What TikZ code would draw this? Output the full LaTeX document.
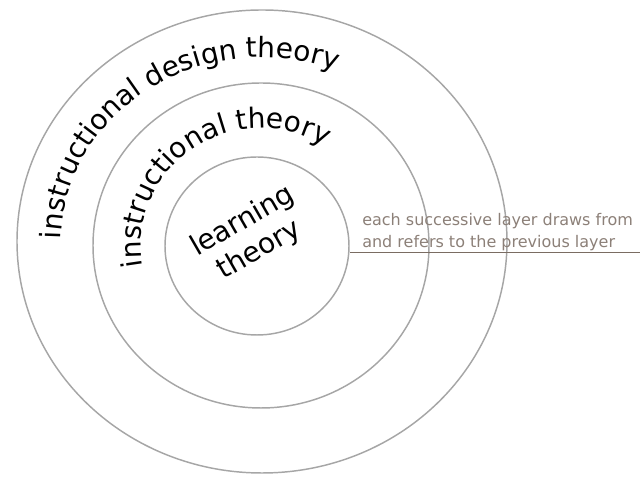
\documentclass[tikz,border=0pt]{standalone}
\usepackage{fontspec}
\setmainfont{DejaVu Sans}
\usetikzlibrary{decorations.text}
\definecolor{ringgray}{HTML}{A6A6A6}
\definecolor{notebrown}{HTML}{7A6C62}
\definecolor{notetext}{HTML}{8C8078}
\newfontfamily\ringfont{DejaVu Sans}
\newcommand{\ringsize}{\ringfont\fontsize{21}{25}\selectfont}

\begin{document}
\begin{tikzpicture}[x=0.75pt, y=0.75pt,
    ring/.style={draw=ringgray, line width=1.1pt},
    ringtext/.style={decorate, decoration={text along path, text align=center,
        text={|\ringsize|#1}}}]
    \useasboundingbox (0,0) rectangle (640,477);

    % Drei Ringe (aussen nach innen)
    \draw[ring] (262,235.5) ellipse [x radius=245, y radius=231.5];
    \draw[ring] (261,231.5) ellipse [x radius=168, y radius=162.5];
    \draw[ring] (257,231) ellipse [x radius=92, y radius=89];

    % Beschriftung entlang der Ringe
    \path[ringtext={instructional design theory}]
        (262,235.5) ++(186:201 and 184) arc [start angle=186, end angle=62, x radius=201, y radius=184];
    \path[ringtext={instructional theory}]
        (261,231.5) ++(197:120 and 117.5) arc [start angle=197, end angle=51, x radius=120, y radius=117.5];

    % Kern
    \node[rotate=30, align=center, font=\ringsize, inner sep=0] (learning) at (251,241) {learning\\theory};

    % Hinweis rechts
    \coordinate (noteleft) at (349.5,224.5);
    \coordinate (noteright) at (640,224.5);
    \draw[notebrown, line width=1pt] (noteleft) -- (noteright);
    \node[anchor=south west, align=left, inner sep=0, text=notetext,
          font=\fontsize{12}{16.5}\selectfont] (note) at (362,226) {each successive layer draws from\\and refers to the previous layer};

\end{tikzpicture}
\end{document}
